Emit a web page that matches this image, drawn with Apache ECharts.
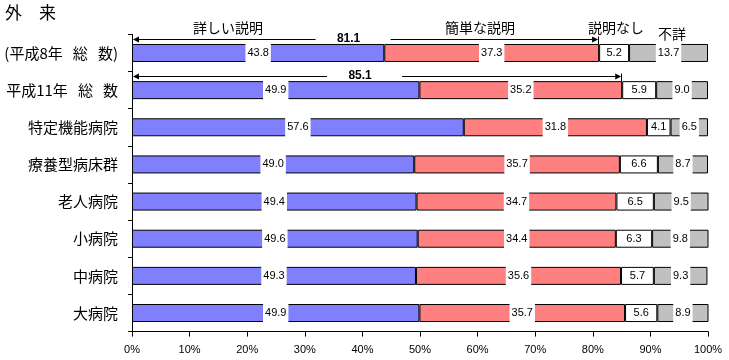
<!DOCTYPE html>
<html><head><meta charset="utf-8">
<script src="https://cdn.jsdelivr.net/npm/echarts@6/dist/echarts.min.js"></script>
<style>html,body{margin:0;padding:0;background:#fff}#c{width:729px;height:360px}</style>
</head><body><div id="c"></div>
<script>
const categories = ['(平成8年   総   数)', '平成11年   総   数', '特定機能病院', '療養型病床群', '老人病院', '小病院', '中病院', '大病院'];
const detailed = [43.8, 49.9, 57.6, 49.0, 49.4, 49.6, 49.3, 49.9];
const simple = [37.3, 35.2, 31.8, 35.7, 34.7, 34.4, 35.6, 35.7];
const noExplain = [5.2, 5.9, 4.1, 6.6, 6.5, 6.3, 5.7, 5.6];
const unknown = [13.7, 9.0, 6.5, 8.7, 9.5, 9.8, 9.3, 8.9];
const totals = [{ cat: 0, value: 81.1 }, { cat: 1, value: 85.1 }];
const seriesNames = ['詳しい説明', '簡単な説明', '説明なし', '不詳'];
const colors = ['#8080FF', '#FF8080', '#FFFFFF', '#C0C0C0'];

const chart = echarts.init(document.getElementById('c'));
const numFont = 'Liberation Sans, Arial, sans-serif';
const jpFont = 'Noto Sans CJK JP, sans-serif';

function mk(name, data, color, labelBg) {
  return {
    name, type: 'bar', stack: 'all', data, barWidth: 18,
    itemStyle: { color, borderColor: '#000', borderWidth: 1 },
    label: {
      show: true, position: 'inside', color: '#000',
      fontFamily: numFont, fontSize: 11,
      backgroundColor: labelBg, padding: [0, 2], lineHeight: 20,
      formatter: p => p.value.toFixed(1)
    },
    emphasis: { disabled: true },
    animation: false
  };
}

chart.setOption({
  animation: false,
  grid: { left: 132, right: 21, top: 34.4, bottom: 28.4, containLabel: false },
  xAxis: {
    type: 'value', min: 0, max: 100, interval: 10,
    axisLine: { show: true, lineStyle: { color: '#000' } },
    axisTick: { show: true, length: 5, lineStyle: { color: '#000' } },
    splitLine: { show: false },
    axisLabel: { formatter: '{value}%', color: '#000', fontFamily: numFont, fontSize: 11, margin: 13 }
  },
  yAxis: {
    type: 'category', data: categories, inverse: true,
    axisLine: { show: true, lineStyle: { color: '#000' } },
    axisTick: { show: true, length: 4, lineStyle: { color: '#000' } },
    axisLabel: { color: '#000', fontFamily: jpFont, fontSize: 15, margin: 14 }
  },
  series: [
    mk(seriesNames[0], detailed, colors[0], '#fff'),
    mk(seriesNames[1], simple, colors[1], '#fff'),
    mk(seriesNames[2], noExplain, colors[2], 'transparent'),
    mk(seriesNames[3], unknown, colors[3], '#fff')
  ]
});

const g = [];
const txt = (text, x, y, size, opts) => g.push({
  type: 'text', x, y, style: Object.assign({ text, fill: '#000', font: size + 'px ' + jpFont, textAlign: 'center', textVerticalAlign: 'middle' }, opts || {})
});
txt('外　来', 5, 13, 17, { textAlign: 'left' });
txt(seriesNames[0], 228, 28, 14);
txt(seriesNames[1], 480, 28, 14);
txt(seriesNames[2], 616, 28, 14);
txt(seriesNames[3], 672, 34, 14);

totals.forEach(t => {
  const p0 = chart.convertToPixel({ xAxisIndex: 0, yAxisIndex: 0 }, [0, t.cat]);
  const p1 = chart.convertToPixel({ xAxisIndex: 0, yAxisIndex: 0 }, [t.value, t.cat]);
  const y = Math.round(p0[1] - 14) + 0.5;
  const x0 = p0[0] + 1, x1 = p1[0] - 1;
  const c = (x0 + x1) / 2 - 17;
  const ls = { stroke: '#000', lineWidth: 1 };
  g.push({ type: 'line', shape: { x1: x0 + 4, y1: y, x2: c - 33, y2: y }, style: ls });
  g.push({ type: 'line', shape: { x1: c + 42, y1: y, x2: x1 - 4, y2: y }, style: ls });
  g.push({ type: 'polygon', shape: { points: [[x0, y], [x0 + 6, y - 3], [x0 + 6, y + 3]] }, style: { fill: '#000' } });
  g.push({ type: 'polygon', shape: { points: [[x1, y], [x1 - 6, y - 3], [x1 - 6, y + 3]] }, style: { fill: '#000' } });
  g.push({ type: 'line', shape: { x1: Math.round(x1) + 0.5, y1: y - 3, x2: Math.round(x1) + 0.5, y2: p0[1] - 9 }, style: ls });
  g.push({ type: 'text', x: c, y: y - 1, style: { text: t.value.toFixed(1), fill: '#000', font: 'bold 12px ' + numFont, textAlign: 'center', textVerticalAlign: 'middle' } });
});
chart.setOption({ graphic: g });
</script></body></html>
